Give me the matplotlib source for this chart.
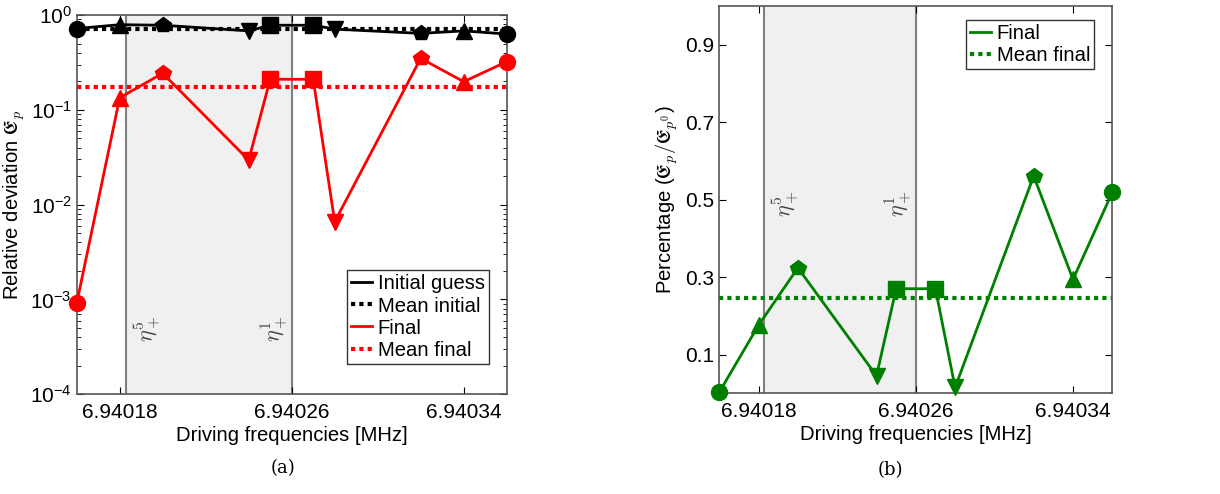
import matplotlib
matplotlib.use('Agg')
import matplotlib.pyplot as plt
from matplotlib.ticker import FormatStrFormatter, LogLocator, NullFormatter

plt.rcParams['font.family'] = ['Liberation Sans', 'DejaVu Sans']
plt.rcParams['mathtext.fontset'] = 'cm'

# data
freqs = [6.94016, 6.94018, 6.94020, 6.94024, 6.94025, 6.94027, 6.94028, 6.94032, 6.94034, 6.94036]
markers = ['o', '^', 'p', 'v', 's', 's', 'v', 'p', '^', 'o']
initial = [0.72, 0.79, 0.78, 0.68, 0.78, 0.78, 0.71, 0.64, 0.68, 0.63]
final = [9.1e-4, 0.134, 0.243, 0.0295, 0.21, 0.21, 0.0066, 0.349, 0.198, 0.322]
mean_initial = 0.72
mean_final = 0.173
percent = [0.003, 0.176, 0.324, 0.045, 0.27, 0.27, 0.015, 0.561, 0.294, 0.519]
mean_percent = 0.245
band = (6.940183, 6.94026)
xticks = [6.94018, 6.94026, 6.94034]

fig = plt.figure(figsize=(12.2, 4.94), dpi=100)
ax1 = fig.add_axes([76.7/1220, 1-394.3/494, 430/1220, 379.3/494])
ax2 = fig.add_axes([719.3/1220, 1-393.3/494, 393/1220, 387.3/494])

dots = (0, (1, 1))
edge = '#555555'


def series(ax, y, color, label):
    ax.plot(freqs, y, '-', color=color, lw=2, label=label, zorder=3)
    for x, v, m in zip(freqs, y, markers):
        ax.plot(x, v, marker=m, ms=11.5 if m != 's' else 11, color=color,
                ls='none', zorder=4, clip_on=False)


def frame(ax):
    ax.axvspan(band[0], band[1], color='#f0f0f0', zorder=0)
    for b in band:
        ax.axvline(b, color='#808080', lw=1.5, zorder=1)
    ax.set_xlim(6.94016, 6.94036)
    ax.set_xticks(xticks)
    ax.xaxis.set_major_formatter(FormatStrFormatter('%.5f'))
    ax.tick_params(direction='in', top=True, right=True, labelsize=15,
                   length=5, color='black')
    ax.tick_params(axis='x', pad=6)
    ax.tick_params(which='minor', direction='in', top=True, right=True, length=3)
    for s in ax.spines.values():
        s.set_color(edge)
        s.set_linewidth(1.2)
    ax.set_xlabel('Driving frequencies [MHz]', fontsize=14.6, labelpad=3)


# (a)
frame(ax1)
ax1.set_yscale('log')
ax1.set_ylim(1e-4, 1)
ax1.yaxis.set_minor_locator(LogLocator(base=10, subs=range(2, 10)))
ax1.yaxis.set_minor_formatter(NullFormatter())
series(ax1, initial, 'black', 'Initial guess')
ax1.axhline(mean_initial, color='black', lw=3, ls=dots, label='Mean initial', zorder=2)
series(ax1, final, 'red', 'Final')
ax1.axhline(mean_final, color='red', lw=3, ls=dots, label='Mean final', zorder=2)
ax1.set_ylabel(r'Relative deviation $\mathfrak{E}_p$', fontsize=14.6, labelpad=2)
ax1.text(6.9401855, 5e-4, r'$\eta_+^5$', rotation=90, fontsize=16, color='#444444',
         ha='left', va='center')
ax1.text(6.940259, 5e-4, r'$\eta_+^1$', rotation=90, fontsize=16, color='#444444',
         ha='right', va='center')
ax1.legend(loc='lower right', fontsize=14.6, handlelength=1.0, handletextpad=0.3,
           borderpad=0.2, labelspacing=0.15, fancybox=False, framealpha=1,
           edgecolor='#333333', bbox_to_anchor=(0.982, 0.054))

# (b)
frame(ax2)
ax2.set_ylim(0, 1)
ax2.set_yticks([0.1, 0.3, 0.5, 0.7, 0.9])
series(ax2, percent, 'green', 'Final')
ax2.axhline(mean_percent, color='green', lw=3, ls=dots, label='Mean final', zorder=2)
ax2.set_ylabel(r'Percentage ($\mathfrak{E}_p/\mathfrak{E}_{p^0}$)', fontsize=14.6, labelpad=4)
ax2.text(6.9401855, 0.49, r'$\eta_+^5$', rotation=90, fontsize=16, color='#444444',
         ha='left', va='center')
ax2.text(6.940259, 0.49, r'$\eta_+^1$', rotation=90, fontsize=16, color='#444444',
         ha='right', va='center')
ax2.legend(loc='upper right', fontsize=14.6, handlelength=1.0, handletextpad=0.3,
           borderpad=0.2, labelspacing=0.15, fancybox=False, framealpha=1,
           edgecolor='#333333', bbox_to_anchor=(0.98, 0.99))

fig.text(283/1220, 1-468/494, '(a)', fontsize=13, family='DejaVu Serif', ha='center', va='center')
fig.text(890/1220, 1-470/494, '(b)', fontsize=13, family='DejaVu Serif', ha='center', va='center')

fig.savefig('out.png', dpi=100)
